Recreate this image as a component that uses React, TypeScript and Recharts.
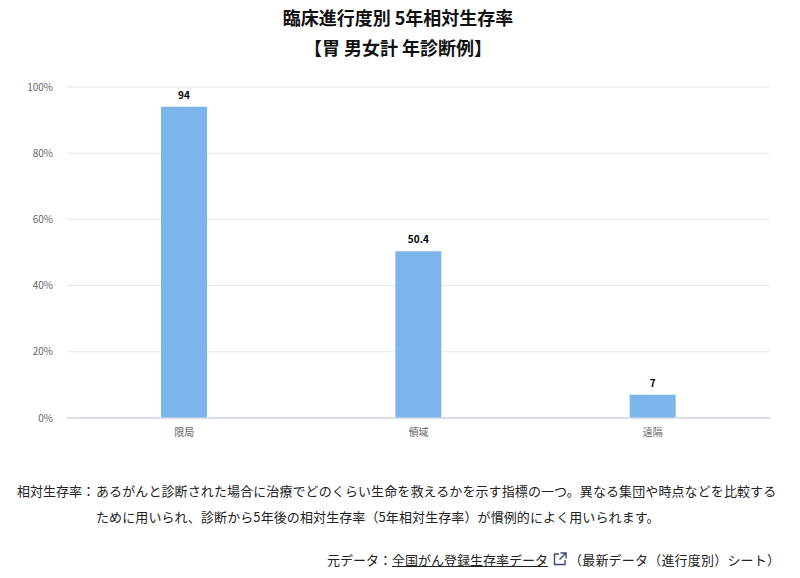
import { BarChart, Bar, XAxis, YAxis, CartesianGrid, LabelList } from "recharts";

const categories = ["限局", "領域", "遠隔"];
const survivalRates = [94, 50.4, 7];
const yTicks = [0, 20, 40, 60, 80, 100];

const titleLines = ["臨床進行度別 5年相対生存率", "【胃 男女計 年診断例】"];
const noteLabel = "相対生存率：";
const noteLines = [
  "あるがんと診断された場合に治療でどのくらい生命を救えるかを示す指標の一つ。異なる集団や時点などを比較する",
  "ために用いられ、診断から5年後の相対生存率（5年相対生存率）が慣例的によく用いられます。",
];

const chartData = categories.map((name, i) => ({ name, rate: survivalRates[i] }));

const FONT = '"Noto Sans CJK JP", "Noto Sans", sans-serif';
const TEXT_COLOR = "#222222";

function ExternalIcon() {
  return (
    <svg width="14" height="14" viewBox="0 0 14 14" style={{ position: "absolute", left: 553, top: 2 }}>
      <path d="M6 2H1.5V12.5H12V8" fill="none" stroke="#3b4a75" strokeWidth="1.4" />
      <path d="M7.5 1H13V6.5M13 1L6.5 7.5" fill="none" stroke="#3b4a75" strokeWidth="1.4" />
    </svg>
  );
}

export default function App() {
  return (
    <div style={{ position: "absolute", left: 0, top: 0, width: 800, height: 578, background: "#fff", fontFamily: FONT, overflow: "hidden" }}>
      {titleLines.map((line, i) => (
        <div
          key={line}
          style={{ position: "absolute", left: 0, width: 796, top: 4 + i * 30, height: 26, lineHeight: "26px", textAlign: "center", fontSize: 18, fontWeight: 700, color: "#111" }}
        >
          {line}
        </div>
      ))}

      <div style={{ position: "absolute", left: 0, top: 0 }}>
        <BarChart
          width={800}
          height={460}
          data={chartData}
          margin={{ top: 87, right: 30, bottom: 12, left: 0 }}
          barCategoryGap="40%"
        >
          <CartesianGrid vertical={false} stroke="#e6e6e6" />
          <XAxis
            dataKey="name"
            tickLine={false}
            axisLine={{ stroke: "#ccd6eb", strokeWidth: 1.5 }}
            tick={{ fill: "#666666", fontSize: 10 }}
            tickMargin={5}
          />
          <YAxis
            width={67}
            domain={[0, 100]}
            ticks={yTicks}
            tickFormatter={(v: number) => `${v}%`}
            tickLine={false}
            axisLine={false}
            tick={{ fill: "#666666", fontSize: 10 }}
            tickMargin={8}
          />
          <Bar dataKey="rate" fill="#7cb5ec" barSize={46} isAnimationActive={false}>
            <LabelList dataKey="rate" position="top" offset={8} style={{ fill: "#000", fontSize: 10, fontWeight: 700 }} />
          </Bar>
        </BarChart>
      </div>

      <div style={{ position: "absolute", left: 17, top: 480, fontSize: 13, lineHeight: "22px", color: TEXT_COLOR, whiteSpace: "nowrap" }}>
        {noteLabel}
      </div>
      {noteLines.map((line, i) => (
        <div
          key={i}
          style={{ position: "absolute", left: 96, top: 480 + i * 26, fontSize: 13, letterSpacing: 0.1, lineHeight: "22px", color: TEXT_COLOR, whiteSpace: "nowrap" }}
        >
          {line}
        </div>
      ))}

      <div style={{ position: "absolute", left: 0, top: 550, width: 800, height: 20, fontSize: 13, lineHeight: "20px", color: TEXT_COLOR, whiteSpace: "nowrap" }}>
        <span style={{ position: "absolute", left: 327 }}>元データ：</span>
        <span style={{ position: "absolute", left: 392, textDecoration: "underline" }}>全国がん登録生存率データ</span>
        <ExternalIcon />
        <span style={{ position: "absolute", left: 569, letterSpacing: 0.2 }}>（最新データ（進行度別）シート）</span>
      </div>
    </div>
  );
}
